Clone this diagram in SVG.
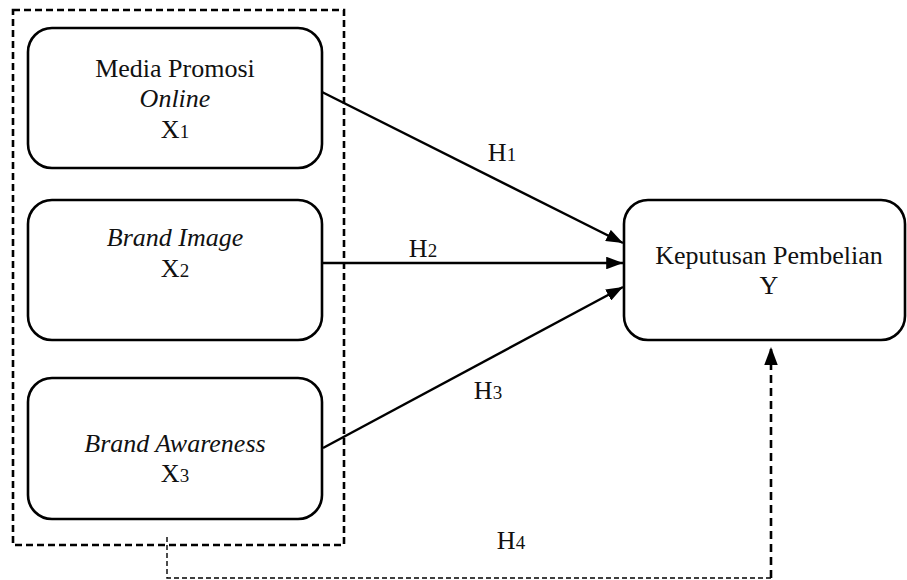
<svg xmlns="http://www.w3.org/2000/svg" width="907" height="580" viewBox="0 0 907 580">
<defs>
<style>
.box{fill:#fff;stroke:#000;stroke-width:2.6}
text{font-family:'Liberation Serif','Times New Roman',serif;font-size:26px;fill:#111;text-anchor:middle}
.i{font-style:italic}
.s{font-size:19px}
.ln{stroke:#000;stroke-width:2.4;fill:none}
.dash{stroke:#000;stroke-width:2.6;fill:none;stroke-dasharray:8,5}
.thin{stroke:#000;stroke-width:1.4;fill:none;stroke-dasharray:5,3}
</style>
<marker id="ah" viewBox="0 0 16 12" refX="16" refY="6" markerWidth="7" markerHeight="5.25" markerUnits="strokeWidth" orient="auto">
<path d="M0,0 L16,6 L0,12 z" fill="#000"/>
</marker>
</defs>
<rect width="907" height="580" fill="#fff"/>
<g id="group-x">
<rect x="13" y="10" width="331" height="535" fill="none" stroke="#000" stroke-width="2.6" stroke-dasharray="7,4"/>
</g>
<g id="x1">
<rect class="box" x="28" y="28" width="294" height="140" rx="24"/>
<text font-family="'Liberation Serif', serif" x="175" y="77">Media Promosi</text>
<text font-family="'Liberation Serif', serif" class="i" x="175" y="107">Online</text>
<text font-family="'Liberation Serif', serif" x="175" y="138">X<tspan class="s">1</tspan></text>
</g>
<g id="x2">
<rect class="box" x="28" y="200" width="294" height="140" rx="24"/>
<text font-family="'Liberation Serif', serif" class="i" x="175" y="246">Brand Image</text>
<text font-family="'Liberation Serif', serif" x="175" y="277">X<tspan class="s">2</tspan></text>
</g>
<g id="x3">
<rect class="box" x="28" y="378" width="294" height="141" rx="24"/>
<text font-family="'Liberation Serif', serif" class="i" x="175" y="452">Brand Awareness</text>
<text font-family="'Liberation Serif', serif" x="175" y="482">X<tspan class="s">3</tspan></text>
</g>
<g id="y">
<rect class="box" x="624" y="200" width="281" height="140" rx="24"/>
<text font-family="'Liberation Serif', serif" x="769" y="264">Keputusan Pembelian</text>
<text font-family="'Liberation Serif', serif" x="769" y="294">Y</text>
</g>
<g id="connectors">
<line class="ln" x1="322" y1="92" x2="623" y2="243" marker-end="url(#ah)"/>
<line class="ln" x1="322" y1="263" x2="623" y2="263" marker-end="url(#ah)"/>
<line class="ln" x1="323" y1="448" x2="623" y2="287" marker-end="url(#ah)"/>
<polyline class="thin" points="167,537 167,578 771,578"/>
<line class="dash" x1="771" y1="578" x2="771" y2="347" marker-end="url(#ah)"/>
<text font-family="'Liberation Serif', serif" x="502" y="161">H<tspan class="s">1</tspan></text>
<text font-family="'Liberation Serif', serif" x="423" y="257">H<tspan class="s">2</tspan></text>
<text font-family="'Liberation Serif', serif" x="488" y="399">H<tspan class="s">3</tspan></text>
<text font-family="'Liberation Serif', serif" x="511" y="549">H<tspan class="s">4</tspan></text>
</g>
</svg>
